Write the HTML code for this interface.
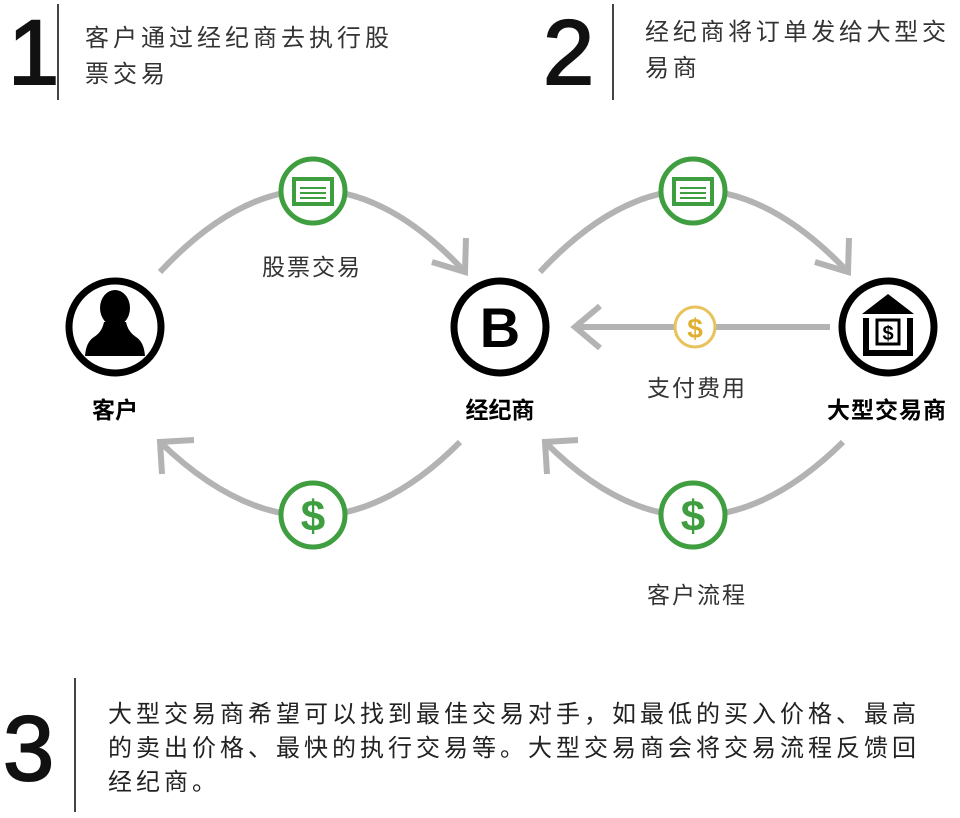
<!DOCTYPE html>
<html><head><meta charset="utf-8"><style>
body{margin:0;background:#fff;width:960px;height:818px;overflow:hidden}
svg{display:block}
.t{font-family:"Liberation Sans","Noto Sans CJK SC",sans-serif}
</style></head><body>
<svg width="960" height="818" viewBox="0 0 960 818" xmlns="http://www.w3.org/2000/svg">
<g class="t">
<text x="8" y="84" font-size="92" fill="#111" stroke="#111" stroke-width="2" font-family="Liberation Sans, sans-serif">1</text>
<line x1="58" y1="4" x2="58" y2="100" stroke="#444" stroke-width="2"/>
<text x="85" y="46" font-size="24" fill="#333" letter-spacing="4">客户通过经纪商去执行股</text>
<text x="85" y="82" font-size="24" fill="#333" letter-spacing="4">票交易</text>
<text x="543" y="84" font-size="92" fill="#111" stroke="#111" stroke-width="2" font-family="Liberation Sans, sans-serif">2</text>
<line x1="613" y1="4" x2="613" y2="100" stroke="#444" stroke-width="2"/>
<text x="645" y="40" font-size="24" fill="#333" letter-spacing="3.7">经纪商将订单发给大型交</text>
<text x="645" y="76" font-size="24" fill="#333" letter-spacing="3.7">易商</text>
<text x="3" y="780" font-size="92" fill="#111" stroke="#111" stroke-width="2" font-family="Liberation Sans, sans-serif">3</text>
<line x1="75" y1="678" x2="75" y2="812" stroke="#444" stroke-width="2"/>
<text x="108" y="722" font-size="24" fill="#222" letter-spacing="4">大型交易商希望可以找到最佳交易对手，如最低的买入价格、最高</text>
<text x="108" y="756" font-size="24" fill="#222" letter-spacing="4">的卖出价格、最快的执行交易等。大型交易商会将交易流程反馈回</text>
<text x="108" y="790" font-size="24" fill="#222" letter-spacing="4">经纪商。</text>
</g>
<g fill="none" stroke="#b3b3b3" stroke-width="6">
<path d="M160 272 Q313 108 465 272"/>
<path d="M432 262 L465 272 L466 238"/>
<path d="M540 272 Q693 108 848 272"/>
<path d="M815 262 L848 272 L849 238"/>
<path d="M830 327 L575 327"/>
<path d="M600 306 L575 327 L600 348"/>
<path d="M460 442 Q313 590 160 442"/>
<path d="M194 440 L160 442 L162 474"/>
<path d="M843 442 Q693 590 545 442"/>
<path d="M578 440 L545 442 L547 474"/>
</g>
<g>
<circle cx="313" cy="191" r="32" fill="#fff" stroke="#3f9e3f" stroke-width="5"/>
<rect x="294" y="179" width="38" height="25" fill="#fff" stroke="#3f9e3f" stroke-width="4"/>
<path d="M300 188h26M300 193h26M300 198h26" stroke="#3f9e3f" stroke-width="2"/>
<circle cx="693" cy="191" r="32" fill="#fff" stroke="#3f9e3f" stroke-width="5"/>
<rect x="674" y="179" width="38" height="25" fill="#fff" stroke="#3f9e3f" stroke-width="4"/>
<path d="M680 188h26M680 193h26M680 198h26" stroke="#3f9e3f" stroke-width="2"/>
<circle cx="313" cy="515" r="32" fill="#fff" stroke="#3f9e3f" stroke-width="5"/>
<text x="313" y="531" font-size="44" font-weight="bold" fill="#3f9e3f" text-anchor="middle" font-family="Liberation Sans, sans-serif">$</text>
<circle cx="693" cy="515" r="32" fill="#fff" stroke="#3f9e3f" stroke-width="5"/>
<text x="693" y="531" font-size="44" font-weight="bold" fill="#3f9e3f" text-anchor="middle" font-family="Liberation Sans, sans-serif">$</text>
<circle cx="695" cy="327" r="20" fill="#fff" stroke="#e8c25a" stroke-width="3"/>
<text x="695" y="338" font-size="28" font-weight="bold" fill="#e0b030" text-anchor="middle" font-family="Liberation Sans, sans-serif">$</text>
</g>
<g>
<circle cx="115" cy="327" r="46" fill="#fff" stroke="#000" stroke-width="7"/>
<ellipse cx="115" cy="308" rx="15" ry="18" fill="#000"/>
<path d="M104 322 Q102 332 94 337 Q86 342 85 356 L145 356 Q144 342 136 337 Q128 332 126 322 Z" fill="#000"/>
<circle cx="500" cy="327" r="46" fill="#fff" stroke="#000" stroke-width="7"/>
<text x="500" y="347" font-size="56" font-weight="bold" fill="#000" text-anchor="middle" font-family="Liberation Sans, sans-serif">B</text>
<circle cx="888" cy="327" r="46" fill="#fff" stroke="#000" stroke-width="7"/>
<path d="M862 314 L888 294 L914 314 Z" fill="#000"/>
<path d="M866 318 V353 H910 V318" fill="none" stroke="#000" stroke-width="6"/>
<rect x="877" y="320" width="22" height="24" fill="#fff" stroke="#000" stroke-width="3"/>
<text x="888" y="340" font-size="20" font-weight="bold" fill="#000" text-anchor="middle" font-family="Liberation Sans, sans-serif">$</text>
</g>
<g class="t" text-anchor="middle">
<text x="312" y="275" font-size="23" fill="#333" letter-spacing="2">股票交易</text>
<text x="697" y="396" font-size="23" fill="#333" letter-spacing="2">支付费用</text>
<text x="697" y="603" font-size="23" fill="#333" letter-spacing="2">客户流程</text>
<text x="115" y="418" font-size="23" font-weight="bold" fill="#000">客户</text>
<text x="500" y="418" font-size="23" font-weight="bold" fill="#000">经纪商</text>
<text x="887" y="418" font-size="23" font-weight="bold" fill="#000" letter-spacing="1">大型交易商</text>
</g>
</svg>
</body></html>
